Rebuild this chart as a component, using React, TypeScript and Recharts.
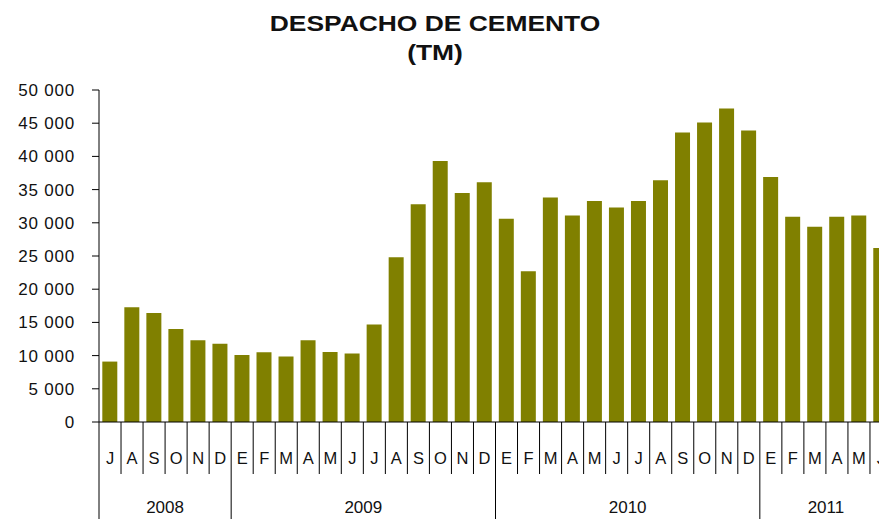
import React from 'react'
import { BarChart, Bar, XAxis, YAxis } from 'recharts'

// jul 2008 .. jun 2011
const months = ['J', 'A', 'S', 'O', 'N', 'D',
  'E', 'F', 'M', 'A', 'M', 'J', 'J', 'A', 'S', 'O', 'N', 'D',
  'E', 'F', 'M', 'A', 'M', 'J', 'J', 'A', 'S', 'O', 'N', 'D',
  'E', 'F', 'M', 'A', 'M', 'J']
const years = ['2008', '2008', '2008', '2008', '2008', '2008',
  '2009', '2009', '2009', '2009', '2009', '2009', '2009', '2009', '2009', '2009', '2009', '2009',
  '2010', '2010', '2010', '2010', '2010', '2010', '2010', '2010', '2010', '2010', '2010', '2010',
  '2011', '2011', '2011', '2011', '2011', '2011']
const despacho = [9100, 17300, 16400, 14000, 12300, 11800,
  10100, 10500, 9850, 12300, 10550, 10300, 14700, 24800, 32800, 39300, 34500, 36100,
  30600, 22700, 33800, 31100, 33300, 32300, 33300, 36400, 43600, 45100, 47200, 43900,
  36900, 30900, 29400, 30900, 31100, 26200]
const yTicks = [0, 5000, 10000, 15000, 20000, 25000, 30000, 35000, 40000, 45000, 50000]

const data = months.map((m, i) => ({ mes: m, anio: years[i], valor: despacho[i] }))

const W = 900
const H = 519
const AXIS_W = 99
const RIGHT = 8
const band = (W - AXIS_W - RIGHT) / data.length
const FONT = "'Liberation Sans', Arial, sans-serif"

const fmt = (v: number) => String(v).replace(/\B(?=(\d{3})+(?!\d))/g, ' ')

function MonthTick(props: any) {
  const { x, y, payload } = props
  const i = payload.index
  const first = i === 0 || years[i] !== years[i - 1]
  let span = 0
  if (first) { for (let k = i; k < years.length && years[k] === years[i]; k++) span++ }
  const left = x - band / 2
  return (
    <g>
      <line x1={left} y1={y} x2={left} y2={first ? y + 100 : y + 52} stroke="#000" strokeWidth={1} />
      <text x={x} y={y + 42} textAnchor="middle" fontSize={16.5} fill="#111"
        fontFamily="'Liberation Sans Narrow', 'Liberation Sans', Arial, sans-serif">{payload.value}</text>
      {first && (
        <text x={left + span * band / 2} y={y + 91} textAnchor="middle" fontSize={17} fill="#111" fontFamily={FONT}>
          {years[i]}
        </text>
      )}
    </g>
  )
}

export default function App() {
  return (
    <div style={{ position: 'absolute', left: 0, top: 0, width: 879, height: 519, overflow: 'hidden', background: '#fff' }}>
      <div style={{ position: 'absolute', left: 0, top: 9, width: 870, textAlign: 'center', fontFamily: FONT, fontWeight: 'bold', fontSize: 22, lineHeight: '29px', color: '#111', transform: 'scaleX(1.2)' }}>
        DESPACHO DE CEMENTO<br />(TM)
      </div>
      <BarChart width={W} height={H} data={data} margin={{ top: 90, right: RIGHT, bottom: 0, left: 0 }} barCategoryGap="15%">
        <XAxis dataKey="mes" interval={0} tickLine={false} tickSize={0} tickMargin={0} height={97}
          axisLine={{ stroke: '#000' }} tick={<MonthTick />} />
        <YAxis width={AXIS_W} domain={[0, 50000]} ticks={yTicks} interval={0} tickFormatter={fmt}
          tickSize={7} tickMargin={17} axisLine={{ stroke: '#000' }} tickLine={{ stroke: '#000' }}
          tick={{ fontSize: 17, fill: '#111', fontFamily: FONT, letterSpacing: 0.8 }} />
        <Bar dataKey="valor" fill="#808000" isAnimationActive={false} />
      </BarChart>
    </div>
  )
}
